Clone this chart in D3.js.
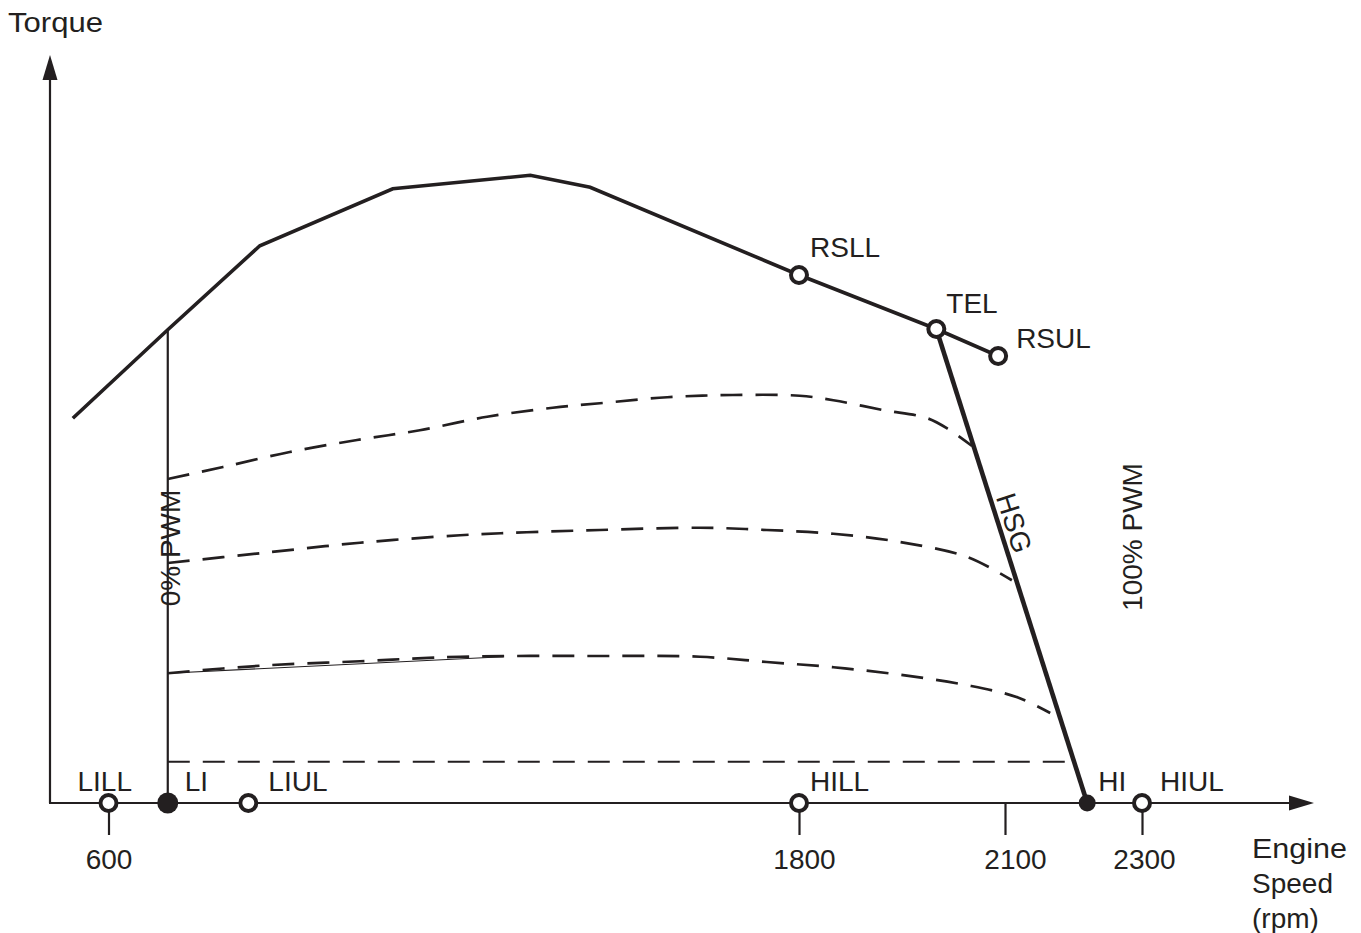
<!DOCTYPE html>
<html>
<head>
<meta charset="utf-8">
<script src="https://cdn.jsdelivr.net/npm/d3@7"></script>
<style>
  html, body { margin: 0; padding: 0; background: #fff; }
  svg text { font-family: "Liberation Sans", Arial, Helvetica, sans-serif; fill: #231f20; }
</style>
</head>
<body>
<svg id="chart" width="1361" height="933"></svg>
<script>
// ---------- data (engine speed in rpm, torque in % of scale) ----------
const tickRpm = [600, 1800, 2100, 2300];
const tickLabels = ["600", "1800", "2100", "2300"];

const torqueRpm = [538, 703, 863, 1094, 1333, 1437, 1800, 2000, 2090];
const torqueVal = [51.3, 63.1, 74.3, 81.9, 83.7, 82.1, 70.4, 63.2, 59.6];

const hsgRpm = [2000, 2220];
const hsgVal = [63.2, 0];

const pwm0Rpm = [703, 703];
const pwm0Val = [0, 63.1];

const dash1Rpm = [703, 799, 915, 1032, 1141, 1258, 1372, 1454, 1571, 1685, 1801, 1850, 1922, 1987, 2020, 2052];
const dash1Val = [43.2, 44.8, 46.8, 48.4, 49.7, 51.5, 52.7, 53.3, 54.1, 54.4, 54.3, 53.7, 52.4, 51.3, 49.7, 47.6];

const dash2Rpm = [703, 863, 1037, 1211, 1327, 1454, 1628, 1744, 1850, 1947, 2045, 2110];
const dash2Val = [32.0, 33.3, 34.7, 35.7, 36.1, 36.4, 36.7, 36.4, 35.9, 34.8, 32.8, 29.7];

const dash3Rpm = [703, 863, 1037, 1211, 1454, 1628, 1744, 1850, 1947, 2045, 2118, 2166];
const dash3Val = [17.3, 18.3, 18.9, 19.5, 19.6, 19.5, 18.8, 18.1, 17.1, 15.7, 14.1, 12.0];
const dash3SolidRpm = [703, 1286];
const dash3SolidVal = [17.3, 19.5];

const dash4Rpm = [703, 2198];
const dash4Val = [5.5, 5.5];

const pointNames = ["LILL", "LI", "LIUL", "HILL", "HI", "HIUL", "RSLL", "TEL", "RSUL"];
const pointRpm   = [600, 703, 843, 1800, 2220, 2300, 1800, 2000, 2090];
const pointVal   = [0, 0, 0, 0, 0, 0, 70.4, 63.2, 59.6];
const pointFilled = [false, true, false, false, true, false, false, false, false];

const axisTitleY = "Torque";
const axisTitleX = ["Engine", "Speed", "(rpm)"];
const pwmLabels = ["0% PWM", "100% PWM", "HSG"];

// ---------- layout ----------
const ink = "#231f20";
const svg = d3.select("#chart");
const x = d3.scaleLinear().domain([600, 1800, 2100, 2300]).range([108.5, 799, 1005, 1142]);
const y = d3.scaleLinear().domain([0, 100]).range([803, 53]);
const FS = 28;

const zip = (a, b) => a.map((v, i) => [v, b[i]]);
const line = d3.line().x(d => x(d[0])).y(d => y(d[1]));
const smooth = d3.line().x(d => x(d[0])).y(d => y(d[1])).curve(d3.curveCatmullRom.alpha(0.5));

// axes
const x0 = 50, y0 = y(0);
svg.append("line").attr("x1", x0).attr("y1", y0).attr("x2", x0).attr("y2", 76)
  .attr("stroke", ink).attr("stroke-width", 2.2);
svg.append("path").attr("d", `M${x0},55 L${x0 - 7.5},80 L${x0 + 7.5},80 Z`).attr("fill", ink);
svg.append("line").attr("x1", x0 - 1).attr("y1", y0).attr("x2", 1292).attr("y2", y0)
  .attr("stroke", ink).attr("stroke-width", 2.2);
svg.append("path").attr("d", `M1314,${y0} L1289,${y0 - 7.5} L1289,${y0 + 7.5} Z`).attr("fill", ink);

// x ticks via d3 axis
const xAxis = d3.axisBottom(x).tickValues(tickRpm).tickFormat((d, i) => tickLabels[i])
  .tickSize(32).tickPadding(14);
const gx = svg.append("g").attr("transform", `translate(0,${y0})`).call(xAxis);
gx.select(".domain").remove();
gx.selectAll(".tick line").attr("stroke", ink).attr("stroke-width", 2.2);
gx.selectAll(".tick text").attr("font-size", FS).attr("font-family", "Liberation Sans, Arial, sans-serif")
  .attr("fill", ink).attr("dx", (d, i) => [0, 5, 10, 2][i]);

// axis titles
svg.append("text").attr("x", 8).attr("y", 32).attr("font-size", FS)
  .attr("textLength", 95).attr("lengthAdjust", "spacingAndGlyphs").text(axisTitleY);
svg.append("text").attr("font-size", FS)
  .selectAll("tspan").data(axisTitleX).join("tspan")
  .attr("x", 1252).attr("y", (d, i) => 858 + i * 35).text(d => d);
svg.selectAll("text").filter(function () { return this.textContent === axisTitleX.join(""); });
svg.select("tspan").attr("textLength", 95).attr("lengthAdjust", "spacingAndGlyphs");

// dashed part-load curves
const dashStyle = g => g.attr("fill", "none").attr("stroke", ink).attr("stroke-width", 2.7)
  .attr("stroke-dasharray", "22,13");
svg.append("path").attr("d", smooth(zip(dash1Rpm, dash1Val))).call(dashStyle);
svg.append("path").attr("d", smooth(zip(dash2Rpm, dash2Val))).call(dashStyle);
svg.append("path").attr("d", smooth(zip(dash3Rpm, dash3Val))).call(dashStyle);
svg.append("path").attr("d", line(zip(dash3SolidRpm, dash3SolidVal)))
  .attr("fill", "none").attr("stroke", ink).attr("stroke-width", 1.2);
svg.append("path").attr("d", line(zip(dash4Rpm, dash4Val))).attr("fill", "none")
  .attr("stroke", ink).attr("stroke-width", 2.2).attr("stroke-dasharray", "22,13");

// 0% PWM vertical
svg.append("path").attr("d", line(zip(pwm0Rpm, pwm0Val))).attr("fill", "none")
  .attr("stroke", ink).attr("stroke-width", 2.2);

// full-load torque curve
svg.append("path").attr("d", line(zip(torqueRpm, torqueVal))).attr("fill", "none")
  .attr("stroke", ink).attr("stroke-width", 3.6).attr("stroke-linejoin", "miter");

// HSG
svg.append("path").attr("d", line(zip(hsgRpm, hsgVal))).attr("fill", "none")
  .attr("stroke", ink).attr("stroke-width", 4.6);

// rotated labels
svg.append("text").attr("font-size", FS).attr("text-anchor", "middle")
  .attr("transform", `translate(${x(703) + 12},548) rotate(-90)`).text(pwmLabels[0]);
svg.append("text").attr("font-size", FS).attr("text-anchor", "middle")
  .attr("transform", `translate(1142,537) rotate(-90)`).text(pwmLabels[1]);
const hsgAngle = Math.atan2(y(hsgVal[1]) - y(hsgVal[0]), x(hsgRpm[1]) - x(hsgRpm[0])) * 180 / Math.PI;
svg.append("text").attr("font-size", FS).attr("text-anchor", "middle")
  .attr("transform", `translate(1005,526) rotate(${hsgAngle})`).text(pwmLabels[2]);

// points
const pts = pointNames.map((n, i) => ({ n, r: pointRpm[i], v: pointVal[i], f: pointFilled[i] }));
const radius = { LI: 10.5, HI: 8.5 };
svg.selectAll("circle.pt").data(pts).join("circle").attr("class", "pt")
  .attr("cx", d => x(d.r)).attr("cy", d => y(d.v))
  .attr("r", d => d.f ? radius[d.n] : 8)
  .attr("fill", d => d.f ? ink : "#fff")
  .attr("stroke", ink).attr("stroke-width", d => d.f ? 0 : 4);

const labelOffset = {
  LILL: [-31, -12], LI: [17, -12], LIUL: [20, -12], HILL: [11, -12], HI: [11, -12],
  HIUL: [18, -12], RSLL: [11, -18], TEL: [10, -16], RSUL: [18, -8]
};
svg.selectAll("text.pl").data(pts).join("text").attr("class", "pl")
  .attr("font-size", FS)
  .attr("x", d => x(d.r) + labelOffset[d.n][0])
  .attr("y", d => y(d.v) + labelOffset[d.n][1])
  .text(d => d.n);
</script>
</body>
</html>
